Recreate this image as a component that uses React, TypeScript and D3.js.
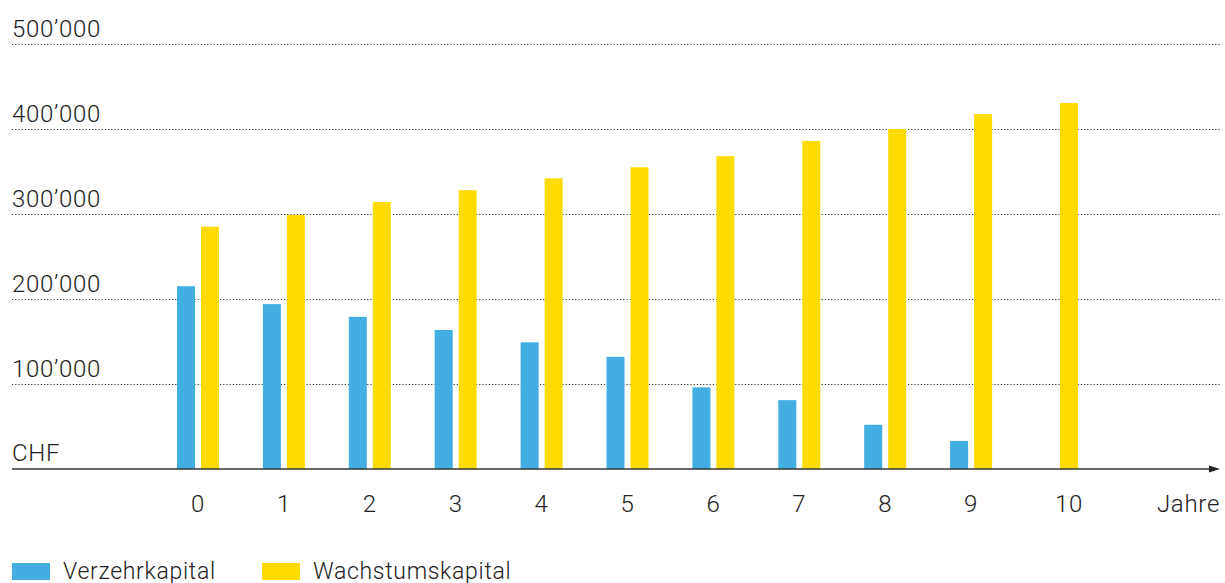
import * as d3 from 'd3';
import React, { useEffect, useRef } from 'react';

// Jahre 0..10
const years: number[] = [0, 1, 2, 3, 4, 5, 6, 7, 8, 9, 10];
const seriesNames: string[] = ['Verzehrkapital', 'Wachstumskapital'];
const seriesColors: string[] = ['#43AEE2', '#FDDB00'];

// CHF values (null = no bar)
const verzehrkapital: (number | null)[] = [
  215000, 194000, 179000, 163500, 149000, 132000, 96000, 81000, 52000, 33000, null,
];
const wachstumskapital: (number | null)[] = [
  285000, 299000, 314000, 328000, 342000, 355000, 368000, 386000, 400000, 417500, 430500,
];

const yTicks: number[] = [100000, 200000, 300000, 400000, 500000];
const formatTick = (v: number) => `${v / 1000}’000`;

const width = 1225;
const height = 583;
const font = 'Roboto, "Noto Sans", sans-serif';
const textColor = '#222';

const App: React.FC = () => {
  const ref = useRef<SVGSVGElement>(null);

  useEffect(() => {
    document.body.style.margin = '0';
    const svg = d3.select(ref.current);
    svg.selectAll('*').remove();

    const left = 12;
    const right = 1220;

    const y = d3.scaleLinear().domain([0, 500000]).range([469, 44]);

    const x = d3
      .scaleBand<number>()
      .domain(years)
      .range([177, 1078])
      .paddingInner(0.511)
      .paddingOuter(0);

    const xInner = d3
      .scaleBand<string>()
      .domain(seriesNames)
      .range([0, x.bandwidth()])
      .paddingInner(0.25);

    const color = d3.scaleOrdinal<string>().domain(seriesNames).range(seriesColors);

    const label = (sel: any, size = 24) =>
      sel
        .attr('font-family', font)
        .attr('font-weight', 300)
        .attr('font-size', size)
        .attr('letter-spacing', 0.7)
        .attr('fill', textColor);

    // Gridlines (dotted) and tick labels
    const grid = svg.append('g');
    grid
      .selectAll('line')
      .data(yTicks)
      .join('line')
      .attr('x1', left)
      .attr('x2', right)
      .attr('y1', d => y(d) + 0.5)
      .attr('y2', d => y(d) + 0.5)
      .attr('stroke', '#333')
      .attr('stroke-width', 1.2)
      .attr('stroke-dasharray', '1.2,2');

    grid
      .selectAll('text')
      .data(yTicks)
      .join('text')
      .attr('x', left)
      .attr('y', d => y(d) - 7)
      .call(label)
      .text(d => formatTick(d));

    svg
      .append('text')
      .attr('x', left)
      .attr('y', y(0) - 8)
      .call(label)
      .text('CHF');

    // Bars
    const rows = years.map((yr, i) => ({
      year: yr,
      values: [
        { key: seriesNames[0], value: verzehrkapital[i] },
        { key: seriesNames[1], value: wachstumskapital[i] },
      ],
    }));

    const group = svg
      .append('g')
      .selectAll('g')
      .data(rows)
      .join('g')
      .attr('transform', d => `translate(${x(d.year)},0)`);

    group
      .selectAll('rect')
      .data(d => d.values.filter(v => v.value !== null))
      .join('rect')
      .attr('x', d => xInner(d.key) as number)
      .attr('width', xInner.bandwidth())
      .attr('y', d => y(d.value as number))
      .attr('height', d => y(0) - y(d.value as number))
      .attr('fill', d => color(d.key));

    // x axis with arrow
    svg
      .append('line')
      .attr('x1', left)
      .attr('x2', right - 8)
      .attr('y1', y(0))
      .attr('y2', y(0))
      .attr('stroke', '#333')
      .attr('stroke-width', 1.6);

    svg
      .append('path')
      .attr('d', `M${right - 11},${y(0) - 3.5}L${right},${y(0)}L${right - 11},${y(0) + 3.5}Z`)
      .attr('fill', '#222');

    // year labels centred on the bars that exist
    group
      .append('text')
      .attr('x', d => {
        const present = d.values.filter(v => v.value !== null);
        return d3.mean(present, v => (xInner(v.key) as number) + xInner.bandwidth() / 2) as number;
      })
      .attr('y', 512)
      .attr('text-anchor', 'middle')
      .call(label)
      .text(d => String(d.year));

    svg
      .append('text')
      .attr('x', right)
      .attr('y', 512)
      .attr('text-anchor', 'end')
      .call(label)
      .text('Jahre');

    // Legend
    const legendX = [12, 262];
    const legend = svg
      .append('g')
      .selectAll('g')
      .data(seriesNames)
      .join('g')
      .attr('transform', (d, i) => `translate(${legendX[i]},563)`);

    legend
      .append('rect')
      .attr('width', 38)
      .attr('height', 17)
      .attr('fill', d => color(d));

    legend
      .append('text')
      .attr('x', 51)
      .attr('y', 16)
      .call(label, 23)
      .text(d => d);
  }, []);

  return (
    <svg
      ref={ref}
      width={width}
      height={height}
      style={{ display: 'block', position: 'absolute', left: 0, top: 0, background: '#fff' }}
    />
  );
};

export default App;
